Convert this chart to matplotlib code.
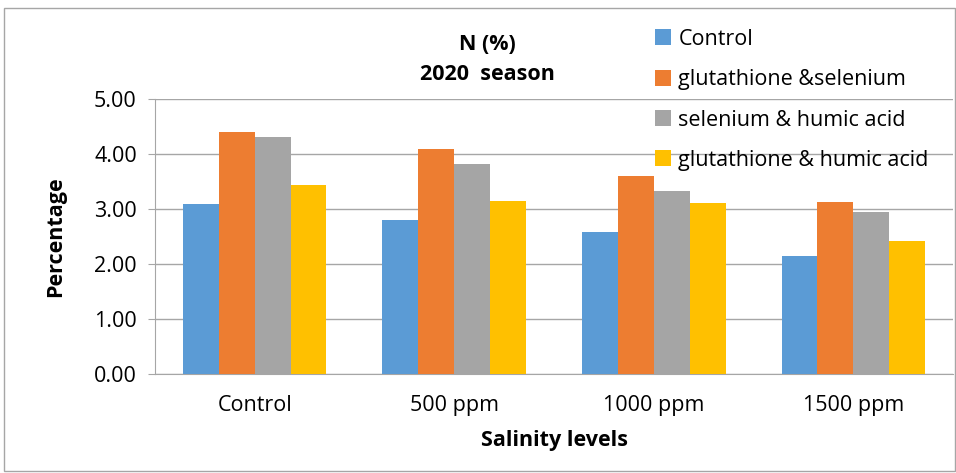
import matplotlib.pyplot as plt
import numpy as np
from matplotlib.patches import Rectangle

plt.rcParams['font.family'] = ['Open Sans', 'DejaVu Sans']

# data
levels = ['Control', '500 ppm', '1000 ppm', '1500 ppm']
treatments = ['Control', 'glutathione &selenium', 'selenium & humic acid', 'glutathione & humic acid']
control = [3.09, 2.80, 2.58, 2.15]
glut_sel = [4.39, 4.09, 3.60, 3.13]
sel_humic = [4.30, 3.82, 3.33, 2.95]
glut_humic = [3.44, 3.15, 3.10, 2.41]
yticks = [0, 1, 2, 3, 4, 5]

colors = ['#5b9bd5', '#ed7d31', '#a5a5a5', '#ffc000']
series = [control, glut_sel, sel_humic, glut_humic]

fs = 15.5

fig = plt.figure(figsize=(9.56, 4.73), dpi=100)
ax = fig.add_axes([0.162, 0.209, 0.835, 0.582])

x = np.arange(len(levels))
w = 0.18
for i, (vals, name) in enumerate(zip(series, treatments)):
    ax.bar(x + (i - 1.5) * w, vals, w, color=colors[i], label=name, zorder=3)

ax.set_xlim(-0.5, 3.5)
ax.set_ylim(0, 5)
ax.set_yticks(yticks)
ax.set_yticklabels([f'{v:.2f}' for v in yticks], fontsize=fs)
ax.set_xticks(x)
ax.set_xticklabels(levels, fontsize=fs)
ax.tick_params(axis='x', length=0, pad=15)
ax.tick_params(axis='y', length=5, color='#a6a6a6', pad=8)
ax.grid(axis='y', color='#a6a6a6', lw=1, zorder=0)

for s in ['top', 'right']:
    ax.spines[s].set_visible(False)
ax.spines['left'].set_color('#a6a6a6')
ax.spines['bottom'].set_color('#a6a6a6')

ax.set_ylabel('Percentage', fontsize=fs, fontweight='bold', labelpad=20)
ax.set_xlabel('Salinity levels', fontsize=fs, fontweight='bold', labelpad=10)

fig.text(0.51, 0.905, 'N (%)', ha='center', va='center', fontsize=fs, fontweight='bold')
fig.text(0.51, 0.842, '2020  season', ha='center', va='center', fontsize=fs, fontweight='bold')

leg = ax.legend(loc='upper left', bbox_to_anchor=(0.602, 1.325), frameon=False,
                fontsize=fs, handlelength=0.75, handleheight=0.75, handletextpad=0.35,
                labelspacing=0.9)

# outer chart border
fig.patches.append(Rectangle((0.004, 0.004), 0.995, 0.98, transform=fig.transFigure,
                             fill=False, edgecolor='#a6a6a6', lw=1))

fig.savefig('out.png', dpi=100)
